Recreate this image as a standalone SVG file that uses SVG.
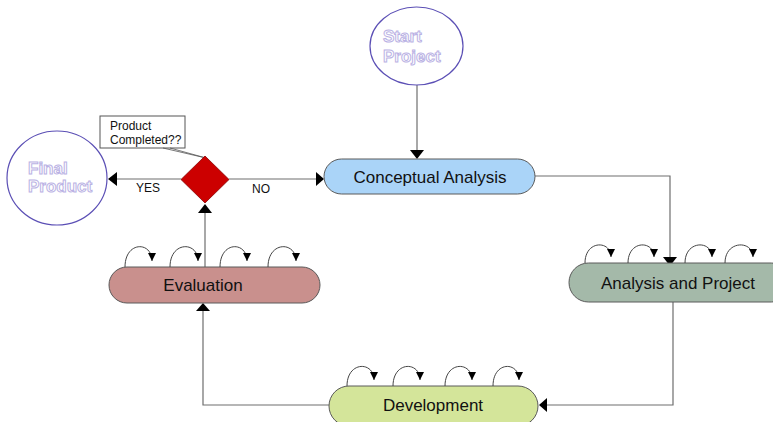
<svg xmlns="http://www.w3.org/2000/svg" width="773" height="422" viewBox="0 0 773 422">
  <style>
    .node { stroke: #5a5a5a; stroke-width: 1; }
    .label { font-family: "Liberation Sans", Arial, sans-serif; font-size: 17px; fill: #111; text-anchor: middle; }
    .small { font-family: "Liberation Sans", Arial, sans-serif; font-size: 12px; fill: #111; }
    .hollow { font-family: "Liberation Sans", Arial, sans-serif; font-size: 17px; font-weight: bold; fill: #ffffff; stroke: #bab2e4; stroke-width: 1; }
    .term { fill: #ffffff; stroke: #5b4fb5; stroke-width: 1.2; }
    .wire { fill: none; stroke: #6e6e6e; stroke-width: 1.2; }
    .loop { fill: none; stroke: #444; stroke-width: 1; }
    .head { fill: #000; }
  </style>
  <defs>
    <marker id="tip" viewBox="0 0 10 10" refX="10" refY="5" markerWidth="8" markerHeight="9" markerUnits="userSpaceOnUse" orient="auto">
      <path d="M0,0 L10,5 L0,10 Z" fill="#000"/>
    </marker>
  </defs>
  <rect width="773" height="422" fill="#ffffff"/>

  <!-- connectors -->
  <g id="connectors">
    <!-- start -> conceptual -->
    <line class="wire" x1="417" y1="85" x2="417" y2="151"/>
    <polygon class="head" points="410,150 424,150 417,159"/>
    <!-- conceptual -> analysis -->
    <polyline class="wire" points="535,176 670,176 670,258"/>
    <polygon class="head" points="663,257 677,257 670,266"/>
    <!-- analysis -> development -->
    <polyline class="wire" points="673,302 673,405 546,405"/>
    <polygon class="head" points="547,398 547,412 539,405"/>
    <!-- development -> evaluation -->
    <polyline class="wire" points="330,405 203,405 203,311"/>
    <polygon class="head" points="196,311 210,311 203,303"/>
    <!-- evaluation -> decision -->
    <line class="wire" x1="205" y1="267" x2="205" y2="212"/>
    <polygon class="head" points="198,213 212,213 205,204"/>
    <!-- decision -> final (YES) -->
    <line class="wire" x1="181" y1="179" x2="116" y2="179"/>
    <polygon class="head" points="117,172 117,186 108,179"/>
    <text class="small" x="136" y="192">YES</text>
    <!-- decision -> conceptual (NO) -->
    <line class="wire" x1="229" y1="179" x2="316" y2="179"/>
    <polygon class="head" points="316,172 316,186 324,179"/>
    <text class="small" x="252" y="193">NO</text>
  </g>

  <!-- terminal: start -->
  <g id="start-project">
    <ellipse class="term" cx="416.5" cy="46" rx="46.5" ry="39"/>
    <text class="hollow" x="383" y="42">Start</text>
    <text class="hollow" x="383" y="62">Project</text>
  </g>

  <!-- terminal: final -->
  <g id="final-product">
    <ellipse class="term" cx="57" cy="178" rx="50" ry="47"/>
    <text class="hollow" x="28" y="174">Final</text>
    <text class="hollow" x="28" y="192">Product</text>
  </g>

  <!-- decision with callout -->
  <g id="decision">
    <rect x="100" y="116" width="85" height="32" fill="#ffffff" stroke="#555" stroke-width="1"/>
    <text class="small" x="110" y="130">Product</text>
    <text class="small" x="110" y="144">Completed??</text>
    <polyline points="163,148 206,158 170,148" fill="none" stroke="#555" stroke-width="0.8"/>
    <polygon points="205,156 229,179.5 205,203 181,179.5" fill="#cc0000" stroke="#8a0000" stroke-width="0.8"/>
  </g>

  <!-- process: conceptual analysis -->
  <g id="conceptual-analysis">
    <rect class="node" x="324" y="159" width="211" height="35" rx="17.5" fill="#aad4f8"/>
    <text class="label" x="430" y="183">Conceptual Analysis</text>
  </g>

  <!-- process: analysis and project -->
  <g id="analysis-project">
    <rect class="node" x="569" y="263" width="222" height="39" rx="19.5" fill="#a4b9a9"/>
    <text class="label" x="678" y="289">Analysis and Project</text>
    <path class="loop" d="M585,263 C585,240 611,240 611,257" marker-end="url(#tip)"/>
    <path class="loop" d="M628,263 C628,240 654,240 654,257" marker-end="url(#tip)"/>
    <path class="loop" d="M685,263 C685,240 712,240 712,257" marker-end="url(#tip)"/>
    <path class="loop" d="M725,263 C725,240 753,240 753,257" marker-end="url(#tip)"/>
  </g>

  <!-- process: development -->
  <g id="development">
    <rect class="node" x="329" y="386" width="209" height="40" rx="20" fill="#d4e59a"/>
    <text class="label" x="433" y="411">Development</text>
    <path class="loop" d="M347,386 C347,361 374,361 374,380" marker-end="url(#tip)"/>
    <path class="loop" d="M393,386 C393,361 420,361 420,380" marker-end="url(#tip)"/>
    <path class="loop" d="M445,386 C445,361 472,361 472,380" marker-end="url(#tip)"/>
    <path class="loop" d="M493,386 C493,361 519,361 519,380" marker-end="url(#tip)"/>
  </g>

  <!-- process: evaluation -->
  <g id="evaluation">
    <rect class="node" x="109" y="267" width="211" height="36" rx="18" fill="#c9908d"/>
    <text class="label" x="203" y="291">Evaluation</text>
    <path class="loop" d="M125,267 C125,241 152,241 152,261" marker-end="url(#tip)"/>
    <path class="loop" d="M170,267 C170,241 198,241 198,261" marker-end="url(#tip)"/>
    <path class="loop" d="M220,267 C220,241 247,241 247,261" marker-end="url(#tip)"/>
    <path class="loop" d="M268,267 C268,241 296,241 296,261" marker-end="url(#tip)"/>
  </g>
</svg>
